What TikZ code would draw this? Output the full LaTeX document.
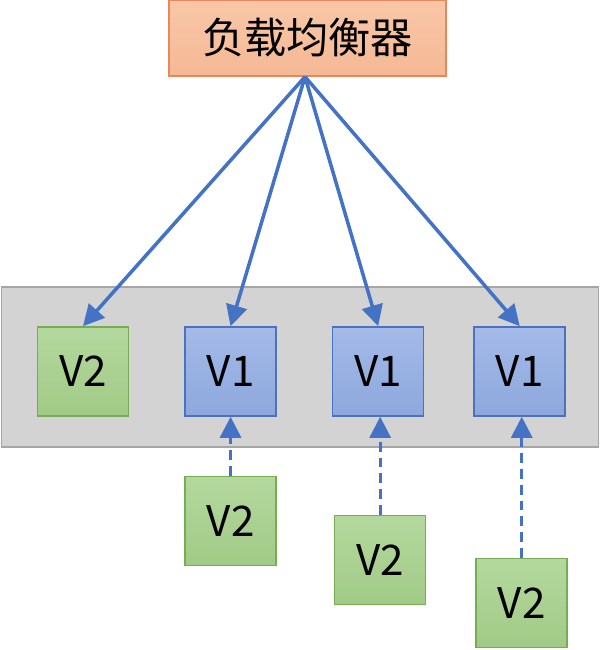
\documentclass[tikz,border=0pt]{standalone}
\usepackage{fontspec}
\newfontfamily\cjk{Noto Sans CJK SC}
\usepackage{xcolor}
\usepackage{tikz}
\usetikzlibrary{arrows.meta, positioning}
\definecolor{lbfill}{HTML}{F5B894}
\definecolor{lbtop}{HTML}{F8C7A8}
\definecolor{lbedge}{HTML}{E8875A}
\definecolor{novotop}{HTML}{B4D89E}
\definecolor{novobot}{HTML}{A1CA86}
\definecolor{novoedge}{HTML}{76AD52}
\definecolor{velhotop}{HTML}{A4BAE8}
\definecolor{velhobot}{HTML}{8DA8DD}
\definecolor{velhoedge}{HTML}{4C72BE}
\definecolor{faixafill}{HTML}{D3D3D3}
\definecolor{faixaedge}{HTML}{A6A6A6}
\definecolor{setacor}{HTML}{4472C4}

\begin{document}
\begin{tikzpicture}[caixa/.style={draw, line width=0.9pt, minimum width=1.82cm, minimum height=1.78cm, inner sep=0pt, font=\cjk\fontsize{24pt}{28pt}\selectfont},
            novo/.style={caixa, draw=novoedge, top color=novotop, bottom color=novobot},
            velho/.style={caixa, draw=velhoedge, top color=velhotop, bottom color=velhobot},
            seta/.style={draw=setacor, line width=2pt, -{Triangle[length=0.42cm, width=0.42cm]}},
            tracejada/.style={seta, line width=1.7pt, dash pattern=on 5.5pt off 3.5pt}]
            \useasboundingbox (0,0) rectangle (12,13);
            \node[draw=faixaedge, line width=0.9pt, fill=faixafill, minimum width=11.94cm, minimum height=3.2cm, inner sep=0pt] (faixa) at (6,5.66) {};
            \node[draw=lbedge, line width=0.9pt, top color=lbtop, bottom color=lbfill, minimum width=5.54cm, minimum height=1.52cm, inner sep=0pt, font=\cjk\fontsize{24pt}{28pt}\selectfont] (lb) at (6.15,12.24) {负载均衡器};
            \node[novo] (v2) at (1.66,5.57) {V2};
            \node[velho, right=1.1cm of v2] (v1a) {V1};
            \node[velho, right=1.1cm of v1a] (v1b) {V1};
            \node[velho, right=0.98cm of v1b] (v1c) {V1};
            \node[novo, below=1.18cm of v1a] (v2a) {V2};
            \node[novo, below=1.96cm of v1b, xshift=0.04cm] (v2b) {V2};
            \node[novo, below=2.82cm of v1c, xshift=0.04cm] (v2c) {V2};
            \draw[seta] ([xshift=-0.05cm]lb.south) -- (v2.north);
            \draw[seta] ([xshift=-0.05cm]lb.south) -- (v1a.north);
            \draw[seta] ([xshift=-0.05cm]lb.south) -- (v1b.north);
            \draw[seta] ([xshift=-0.05cm]lb.south) -- (v1c.north);
            \draw[tracejada] (v2a.north) -- (v1a.south);
            \draw[tracejada] (v2b.north) -- (v2b.north |- v1b.south);
            \draw[tracejada] (v2c.north) -- (v2c.north |- v1c.south);
        \end{tikzpicture}
\end{document}
